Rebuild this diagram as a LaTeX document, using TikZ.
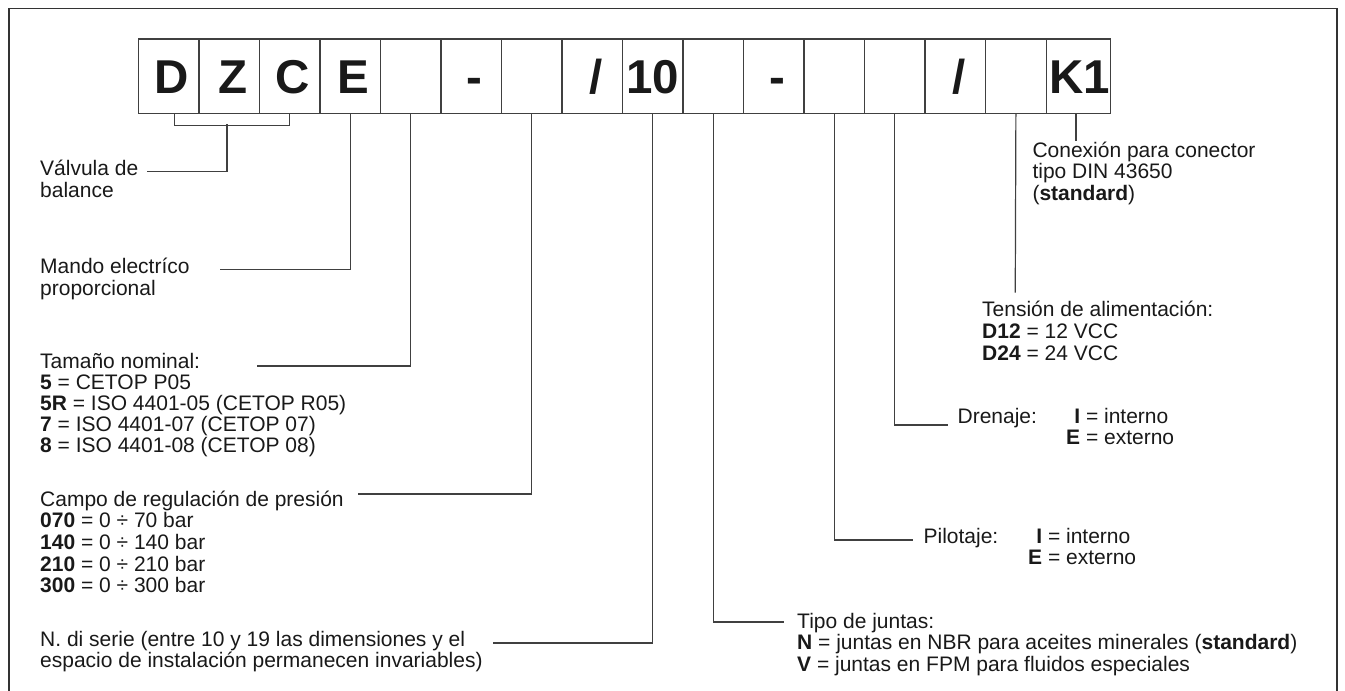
\documentclass[tikz,border=0pt]{standalone}
\usepackage{fontspec}
\setmainfont{Liberation Sans}
\begin{document}
\begin{tikzpicture}[x=1pt,y=-1pt,
  cell/.style={draw=black!75, line width=1.3pt, minimum width=60.5pt,
    minimum height=74.4pt, inner sep=0pt, anchor=north west,
    text height=34pt, text depth=0pt, text=black!90,
    font=\fontsize{47.5}{48}\selectfont\bfseries},
  lead/.style={draw=black!75, line width=1.2pt},
  lbl/.style={inner sep=0pt, anchor=base west, align=left, text=black!90,
    font=\fontsize{21}{21.7}\selectfont}]

\useasboundingbox (0,0) rectangle (1345,691);

% outer frame, open at the bottom
\draw[line width=1.5pt, black!80] (9,691) -- (9,8.3) -- (1337,8.3) -- (1337,691);

% code boxes
\node[cell] (b0)  at (137.7,38.3) {\hspace*{7pt}D};
\node[cell] (b1)  at (198.2,38.3) {\hspace*{7pt}Z};
\node[cell] (b2)  at (258.7,38.3) {\hspace*{7pt}C};
\node[cell] (b3)  at (319.3,38.3) {\hspace*{7pt}E};
\node[cell] (b4)  at (379.8,38.3) {};
\node[cell] (b5)  at (440.3,38.3) {\hspace*{7pt}-};
\node[cell] (b6)  at (500.8,38.3) {};
\node[cell] (b7)  at (561.3,38.3) {\hspace*{7pt}/};
\node[cell] (b8)  at (621.9,38.3) {10};
\node[cell] (b9)  at (682.4,38.3) {};
\node[cell] (b10) at (742.9,38.3) {\hspace*{7pt}-};
\node[cell] (b11) at (803.4,38.3) {};
\node[cell] (b12) at (863.9,38.3) {};
\node[cell] (b13) at (924.5,38.3) {\hspace*{7pt}/};
\node[cell] (b14) at (985.0,38.3) {};
\node[cell, minimum width=64pt] (b15) at (1045.5,38.3) {\hspace*{3pt}K1};

% descriptions, left column (anchored at the baseline of the last line)
\node[lbl] (valv) at (40,197) {Válvula de\\balance};
\node[lbl] (mando) at (40,295.3) {Mando electríco\\proporcional};
\node[lbl, font=\fontsize{21}{21}\selectfont] (tam) at (40,452) {Tamaño nominal:\\
  \textbf{5} = CETOP P05\\
  \textbf{5R} = ISO 4401-05 (CETOP R05)\\
  \textbf{7} = ISO 4401-07 (CETOP 07)\\
  \textbf{8} = ISO 4401-08 (CETOP 08)};
\node[lbl] (campo) at (40,592.8) {Campo de regulación de presión\\
  \textbf{070} = 0 ÷ 70 bar\\
  \textbf{140} = 0 ÷ 140 bar\\
  \textbf{210} = 0 ÷ 210 bar\\
  \textbf{300} = 0 ÷ 300 bar};
\node[lbl] (serie) at (40,667.7) {N. di serie (entre 10 y 19 las dimensiones y el\\
  espacio de instalación permanecen invariables)};

% descriptions, right column
\node[lbl] (cone) at (1032.3,200.4) {Conexión para conector\\tipo DIN 43650\\(\textbf{standard})};
\node[lbl] (tens) at (982,360.1) {Tensión de alimentación:\\
  \textbf{D12} = 12 VCC\\
  \textbf{D24} = 24 VCC};
\node[lbl] (dren) at (957.4,423) {Drenaje:};
\node[lbl] (drenv) at (1080,444.7) {\llap{\textbf{I}} = interno\\\llap{\textbf{E}} = externo};
\node[lbl] (pil) at (923.4,543) {Pilotaje:};
\node[lbl] (pilv) at (1042,564.7) {\llap{\textbf{I}} = interno\\\llap{\textbf{E}} = externo};
\node[lbl] (tipo) at (797,671.4) {Tipo de juntas:\\
  \textbf{N} = juntas en NBR para aceites minerales (\textbf{standard})\\
  \textbf{V} = juntas en FPM para fluidos especiales};

% leader end points
\coordinate (brk) at (227,124);
\coordinate (cV) at (146.7,171.7);
\coordinate (cM) at (220,269.3);
\coordinate (cT) at (256.7,366);
\coordinate (cC) at (358,494);
\coordinate (cS) at (493,643);
\coordinate (cJ) at (784,622);
\coordinate (cP) at (913,540);
\coordinate (cD) at (948,425);
\coordinate (cA) at (1015.25,292.7);
\coordinate (cK) at (1076,141);

% leaders
\draw[lead] ([xshift=6pt]b0.south) -- ++(0,11.3) -| (b2.south);
\draw[lead] (brk) |- (cV);
\draw[lead] (b3.south) |- (cM);
\draw[lead] (b4.south) |- (cT);
\draw[lead] (b6.south) |- (cC);
\draw[lead] (b8.south) |- (cS);
\draw[lead] (b9.south) |- (cJ);
\draw[lead] (b11.south) |- (cP);
\draw[lead] (b12.south) |- (cD);
\draw[lead] (b14.south) -- (cA);
\draw[lead] (b15.south -| cK) -- (cK);
\end{tikzpicture}
\end{document}
